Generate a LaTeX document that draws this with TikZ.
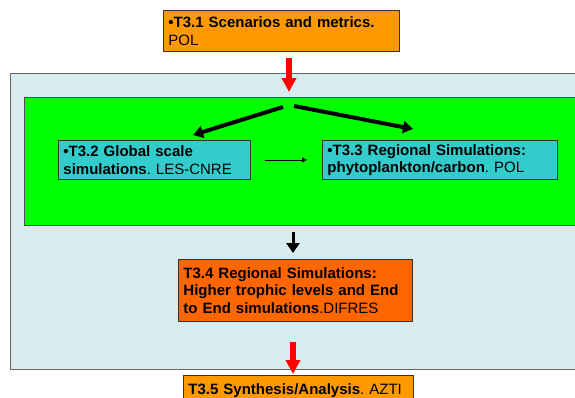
\documentclass[tikz,border=0pt]{standalone}
\usepackage{fontspec}
\setmainfont{Liberation Sans}
\usetikzlibrary{arrows.meta}
\definecolor{wpblue}{RGB}{216,235,239}
\definecolor{simgreen}{RGB}{0,255,0}
\definecolor{taskteal}{RGB}{51,204,204}
\definecolor{taskorange}{RGB}{255,153,0}
\definecolor{taskdark}{RGB}{255,102,0}
\definecolor{arrowred}{RGB}{255,0,0}
\frenchspacing
\begin{document}
\begin{tikzpicture}[x=1pt,y=-1pt,
    task/.style={draw=black!80,line width=0.9pt,anchor=north west,align=left,
      inner xsep=5pt,inner ysep=0pt,font=\fontsize{15}{17.5}\selectfont},
    redarrow/.style={arrowred,line width=5.5pt,-{Triangle[width=14pt,length=14pt]}},
    flowarrow/.style={line width=4pt,-{Triangle[width=12pt,length=10pt]}}]
        \useasboundingbox (0,0) rectangle (575,397);
        \clip (0,0) rectangle (575,397);
        % work package background and regional block
        \fill[white] (0,0) rectangle (575,397);
        \draw[fill=wpblue,draw=black!60,line width=0.9pt] (10,73) rectangle (590,369);
        \draw[fill=simgreen,draw=black!70,line width=0.9pt] (24,97) rectangle (590,225);
        % tasks
        \node[task,fill=taskorange,text width=226pt,minimum height=41pt] (t31) at (163,10)
            {\textbf{•T3.1 Scenarios and metrics.}\\POL};
        \node[task,fill=taskteal,text width=182pt,minimum height=39pt] (t32) at (58,140)
            {\textbf{•T3.2 Global scale}\\\textbf{simulations}. LES-CNRE};
        \node[task,fill=taskteal,text width=225pt,minimum height=39pt] (t33) at (322,140)
            {\textbf{•T3.3 Regional Simulations:}\\\textbf{phytoplankton/carbon}. POL};
        \node[task,fill=taskdark,text width=224pt,minimum height=62pt] (t34) at (178,259)
            {\textbf{T3.4 Regional Simulations:}\\\textbf{Higher trophic levels and End}\\\textbf{to End simulations}.DIFRES};
        \node[task,fill=taskorange,text width=220pt,minimum height=30pt] (t35) at (183,375)
            {\textbf{T3.5 Synthesis/Analysis}. AZTI};
        % arrow ends
        \coordinate (r1a) at (289,58);
        \coordinate (r1b) at (289,92);
        \coordinate (splitl) at (283,107);
        \coordinate (splitr) at (294,106);
        \coordinate (tipl) at (193,135);
        \coordinate (tipr) at (413,129);
        \coordinate (d1a) at (293,232);
        \coordinate (d1b) at (293,253);
        \coordinate (r2a) at (293,342);
        \coordinate (r2b) at (293,374);
        \draw[redarrow] (r1a) -- (r1b);
        \draw[flowarrow] (splitl) -- (tipl);
        \draw[flowarrow] (splitr) -- (tipr);
        \draw[line width=0.9pt,-{Triangle[width=5pt,length=5pt]}] ([xshift=14pt]t32.east) -- ([xshift=-15pt]t33.west);
        \draw[line width=3pt,-{Triangle[width=13pt,length=10pt]}] (d1a) -- (d1b);
        \draw[redarrow] (r2a) -- (r2b);
\end{tikzpicture}
\end{document}
